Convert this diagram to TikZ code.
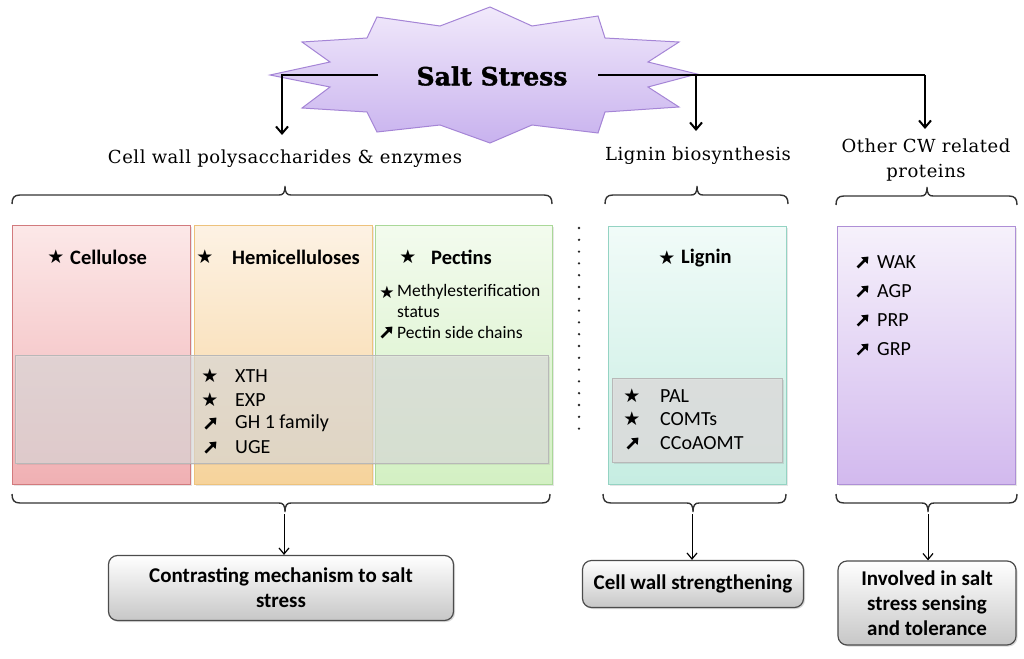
\documentclass[tikz,border=0pt]{standalone}
\usepackage{fontspec}
\setmainfont{Carlito}
\newfontfamily\twfont[LetterSpace=3]{DejaVu Serif}
\newfontfamily\boldserif[BoldFeatures={FakeBold=1.6}]{DejaVu Serif}
\newfontfamily\symfont{DejaVu Sans}
\usetikzlibrary{arrows.meta,shadows}
\definecolor{pinkT}{HTML}{FCE8E8}\definecolor{pinkB}{HTML}{F0B0B3}\definecolor{pinkD}{HTML}{D27A7D}
\definecolor{oraT}{HTML}{FDF2E4}\definecolor{oraB}{HTML}{F6D39B}\definecolor{oraD}{HTML}{EDC27C}
\definecolor{grnT}{HTML}{F3FBEE}\definecolor{grnB}{HTML}{D3F0C3}\definecolor{grnD}{HTML}{AAD898}
\definecolor{tealT}{HTML}{F1FBF8}\definecolor{tealB}{HTML}{C6EDE2}\definecolor{tealD}{HTML}{94D3C3}
\definecolor{purT}{HTML}{F6F1FB}\definecolor{purB}{HTML}{D2B9EE}\definecolor{purD}{HTML}{AE8FD6}
\definecolor{starT}{HTML}{F1E9FB}\definecolor{starB}{HTML}{C8B2EE}\definecolor{starD}{HTML}{A585D6}
\newcommand\mystar{{\symfont\fontsize{19}{19}\selectfont ★}}
\newcommand\heavyarr[2]{\draw[line width=2.5pt, -{Triangle[length=6pt,width=9pt]}] (#1-5.5,#2+5.5) -- (#1+5.5,#2-5.5);}
\newcommand\bracetop[4]{%
  \draw[bracestyle] (#1,#4+9) .. controls (#1,#4+3) and (#1+2,#4) .. (#1+8,#4) -- (#3-6,#4)
    .. controls (#3-2,#4) and (#3,#4-2) .. (#3,#4-9) .. controls (#3,#4-2) and (#3+2,#4) .. (#3+6,#4)
    -- (#2-8,#4) .. controls (#2-2,#4) and (#2,#4+3) .. (#2,#4+9);}
\newcommand\bracebot[4]{%
  \draw[bracestyle] (#1,#4-9) .. controls (#1,#4-3) and (#1+2,#4) .. (#1+8,#4) -- (#3-6,#4)
    .. controls (#3-2,#4) and (#3,#4+2) .. (#3,#4+9) .. controls (#3,#4+2) and (#3+2,#4) .. (#3+6,#4)
    -- (#2-8,#4) .. controls (#2-2,#4) and (#2,#4-3) .. (#2,#4-9);}
\begin{document}
\begin{tikzpicture}[x=1pt,y=-1pt,
  bracestyle/.style={line width=1.4pt, black!80},
  mainline/.style={line width=2.4pt, black, -{Straight Barb[length=7pt,width=12pt,line width=2pt]}},
  thinarrow/.style={line width=1pt, black, -{Straight Barb[length=6pt,width=10pt,line width=1.2pt]}},
  lab/.style={font=\twfont\fontsize{18}{25}\selectfont, inner sep=0pt},
  cellbox/.style={draw, line width=1pt, minimum width=#1, anchor=north west, inner sep=0pt,
     drop shadow={opacity=0.2, shadow xshift=1.2pt, shadow yshift=-1.2pt}},
  head/.style={font=\bfseries\fontsize{20.5}{22}\selectfont, anchor=west, inner sep=0pt},
  item/.style={font=\fontsize{20}{22}\selectfont, anchor=west, inner sep=0pt},
  small/.style={font=\fontsize{17.5}{20}\selectfont, anchor=west, inner sep=0pt},
  sym/.style={anchor=center, inner sep=0pt},
  endbox/.style={draw=black!70, line width=1.2pt, rounded corners=9pt, top color=white,
     bottom color=black!22, align=center, font=\bfseries\fontsize{21}{25}\selectfont,
     drop shadow={opacity=0.3, shadow xshift=1.5pt, shadow yshift=-1.5pt}}
]
\useasboundingbox (0,0) rectangle (1024,658);
% ---- star ----
\path[draw=starD, line width=1pt, top color=starT, bottom color=starB]
  (490,7) -- (532,26) -- (598,16) -- (605,38) -- (679,42) -- (648,62) -- (697,74) -- (648,87)
  -- (679,107) -- (605,112) -- (598,133) -- (532,125) -- (490,143) -- (440,125) -- (377,132)
  -- (367,112) -- (302,108) -- (330,87) -- (270,75) -- (330,62) -- (302,42) -- (367,38)
  -- (377,17) -- (440,26) -- cycle;
\node[font=\boldserif\bfseries\fontsize{25}{28}\selectfont, inner sep=0pt] (ss) at (492,76) {Salt Stress};
% ---- top connectors ----
\coordinate (jl) at (378,75);
\coordinate (jr) at (598,75);
\coordinate (cwk) at (282,75);
\coordinate (cwend) at (282,135);
\coordinate (lgk) at (696,75);
\coordinate (lgend) at (696,131);
\coordinate (otk) at (925,75);
\coordinate (otend) at (925,129);
\draw[mainline] (jl) -- (cwk) -- (cwend);
\draw[line width=2.4pt] (jr) -- (otk);
\draw[mainline] (lgk) -- (lgend);
\draw[mainline] (otk) -- (otend);
% ---- labels ----
\node[lab] (cwlab) at (285,159) {Cell wall polysaccharides \& enzymes};
\node[lab] (lglab) at (698,156) {Lignin biosynthesis};
\node[lab, align=center] (otlab) at (926,160) {Other CW related\\proteins};
% ---- top braces ----
\bracetop{12}{552}{285}{195}
\bracetop{605}{788}{697}{195}
\bracetop{836}{1017}{927}{196}
% ---- boxes ----
\node[cellbox=178pt, minimum height=259pt, draw=pinkD, top color=pinkT, bottom color=pinkB] (cel) at (12,225) {};
\node[cellbox=178pt, minimum height=259pt, draw=oraD, top color=oraT, bottom color=oraB] (hem) at (194,225) {};
\node[cellbox=177pt, minimum height=259pt, draw=grnD, top color=grnT, bottom color=grnB] (pec) at (375,225) {};
\node[cellbox=178pt, minimum height=258pt, draw=tealD, top color=tealT, bottom color=tealB] (lig) at (608,226) {};
\node[cellbox=178pt, minimum height=258pt, draw=purD, top color=purT, bottom color=purB] (oth) at (837,226) {};
\node[draw=black!28, line width=1pt, fill=black!13, fill opacity=0.6, minimum width=533pt, minimum height=108pt,
      anchor=north west, inner sep=0pt, drop shadow={opacity=0.15, shadow xshift=1pt, shadow yshift=-1pt}] (enz) at (15,355) {};
\node[draw=black!28, line width=1pt, fill=black!13, fill opacity=0.85, minimum width=170pt, minimum height=84pt,
      anchor=north west, inner sep=0pt, drop shadow={opacity=0.2, shadow xshift=1pt, shadow yshift=-1pt}] (ligenz) at (612,378) {};
% dotted separator
\coordinate (dt) at (579,228);
\coordinate (db) at (579,440);
\draw[line width=2.6pt, line cap=round, dash pattern=on 0pt off 11.8pt, black!85] (dt) -- (db);
% ---- box headings ----
\node[sym] (s1) at (56,257) {\mystar};
\node[head] (h1) at (70,257) {Cellulose};
\node[sym] (s2) at (205,257) {\mystar};
\node[head] (h2) at (232,257) {Hemicelluloses};
\node[sym] (s3) at (408,257) {\mystar};
\node[head] (h3) at (431,257) {Pectins};
\node[sym] (s4) at (667,258) {\mystar};
\node[head] (h4) at (681,258) {Lignin};
% pectin details
\node[sym, font=\fontsize{17}{17}\selectfont] (p1s) at (387,292) {\symfont ★};
\node[small] (p1) at (397,292) {Methylesterification};
\node[small] (p2) at (397,312) {status};
\heavyarr{387}{332}
\node[small] (p3) at (397,332) {Pectin side chains};
% enzymes
\node[sym] (e1s) at (210,376) {\mystar};
\node[item] (e1) at (235,376) {XTH};
\node[sym] (e2s) at (210,400) {\mystar};
\node[item] (e2) at (235,400) {EXP};
\heavyarr{211}{423}
\node[item] (e3) at (235,423) {GH 1 family};
\heavyarr{211}{447}
\node[item] (e4) at (235,447) {UGE};
% lignin enzymes
\node[sym] (l1s) at (632,396) {\mystar};
\node[item] (l1) at (660,396) {PAL};
\node[sym] (l2s) at (632,419) {\mystar};
\node[item] (l2) at (660,419) {COMTs};
\heavyarr{633}{443}
\node[item] (l3) at (660,443) {CCoAOMT};
% other proteins
\heavyarr{863}{262}
\node[item] (o1) at (877,262) {WAK};
\heavyarr{863}{291}
\node[item] (o2) at (877,291) {AGP};
\heavyarr{863}{320}
\node[item] (o3) at (877,320) {PRP};
\heavyarr{863}{349}
\node[item] (o4) at (877,349) {GRP};
% ---- bottom braces ----
\bracebot{12}{550}{285}{503}
\bracebot{603}{786}{693}{503}
\bracebot{836}{1017}{928}{503}
% ---- outcome boxes ----
\node[endbox, minimum width=345pt, minimum height=65pt] (r1) at (281,588) {Contrasting mechanism to salt\\stress};
\node[endbox, minimum width=221pt, minimum height=47pt] (r2) at (693,584) {Cell wall strengthening};
\node[endbox, minimum width=178pt, minimum height=84pt] (r3) at (927,603) {Involved in salt\\stress sensing\\and tolerance};
\coordinate (b1) at (284,514);
\coordinate (b2) at (692,514);
\coordinate (b3) at (928,514);
\draw[thinarrow] (b1) -- (r1.north -| b1);
\draw[thinarrow] (b2) -- (r2.north -| b2);
\draw[thinarrow] (b3) -- (r3.north -| b3);
\end{tikzpicture}
\end{document}
